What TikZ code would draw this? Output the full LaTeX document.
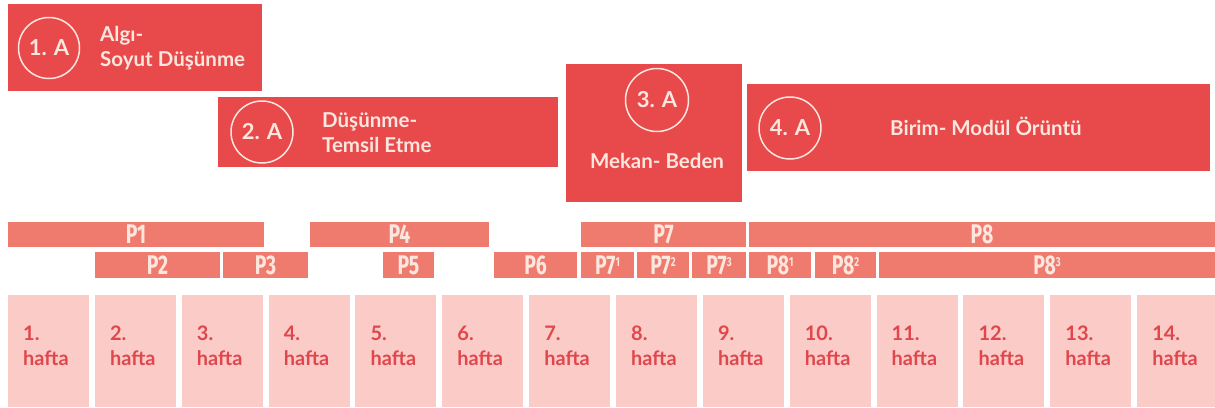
\documentclass[tikz,border=0pt]{standalone}
\usepackage{fontspec}
\setmainfont{Lato}
\newfontfamily\condf{Fira Sans}[FakeStretch=0.72]
\definecolor{boxred}{HTML}{E8494B}
\definecolor{pbarc}{HTML}{EF7B6F}
\definecolor{weekc}{HTML}{FBCBC8}
\definecolor{weektxt}{HTML}{E0474C}
\definecolor{lightc}{HTML}{FCE6DE}
\newcommand{\psup}[1]{\raisebox{0.55ex}{\fontsize{13}{13}\selectfont #1}}
\begin{document}
\begin{tikzpicture}[x=1pt,y=-1pt,
  bigbox/.style={fill=boxred, draw=none, inner sep=0, outer sep=0, anchor=north west},
  circ/.style={circle, draw=lightc, line width=1.5pt, inner sep=0, text=lightc,
    font=\bfseries\fontsize{22}{22}\selectfont},
  bigtxt/.style={inner sep=0, text=lightc, font=\bfseries\fontsize{20.5}{21}\selectfont},
  pbar/.style={fill=pbarc, draw=none, inner sep=0, outer sep=0, anchor=north west,
    text=lightc, font=\condf\bfseries\fontsize{27}{27}\selectfont},
  weekbox/.style={fill=weekc, draw=none, inner sep=0, outer sep=0, anchor=north west,
    minimum width=81, minimum height=112},
  wtxt/.style={inner sep=0, anchor=base west, text=weektxt,
    font=\bfseries\fontsize{20}{20}\selectfont}
]
\useasboundingbox (0,0) rectangle (1215,407);

% big boxes
\node[bigbox, minimum width=254, minimum height=87] (b1) at (8,4) {};
\node[circ, minimum size=61] (c1) at (49,48) {1. A};
\node[bigtxt, anchor=base west] (t1a) at (100,41) {Algı-};
\node[bigtxt, anchor=base west] (t1b) at (100,66) {Soyut Düşünme};

\node[bigbox, minimum width=340, minimum height=70] (b2) at (218,97) {};
\node[circ, minimum size=62] (c2) at (262,132) {2. A};
\node[bigtxt, anchor=base west] (t2a) at (322,127) {Düşünme-};
\node[bigtxt, anchor=base west] (t2b) at (322,152) {Temsil Etme};

\node[bigbox, minimum width=176, minimum height=138] (b3) at (566,64) {};
\node[circ, minimum size=63] (c3) at (657,100) {3. A};
\node[bigtxt, anchor=base] (t3) at (657,168) {Mekan- Beden};

\node[bigbox, minimum width=463, minimum height=87] (b4) at (747,84) {};
\node[circ, minimum size=62] (c4) at (790,128) {4. A};
\node[bigtxt, anchor=base west] (t4) at (890,135) {Birim- Modül Örüntü};

% P bars, row 1
\node[pbar, minimum width=256, minimum height=25] (p1) at (8,222) {P1};
\node[pbar, minimum width=179, minimum height=25] (p4) at (310,222) {P4};
\node[pbar, minimum width=165, minimum height=25] (p7) at (581,222) {P7};
\node[pbar, minimum width=466, minimum height=25] (p8) at (749,222) {P8};
% P bars, row 2
\node[pbar, minimum width=125, minimum height=26] (p2) at (95,252) {P2};
\node[pbar, minimum width=85, minimum height=26] (p3) at (223,252) {P3};
\node[pbar, minimum width=51, minimum height=26] (p5) at (383,252) {P5};
\node[pbar, minimum width=83, minimum height=26] (p6) at (494,252) {P6};
\node[pbar, minimum width=53, minimum height=26] (p71) at (581,252) {P7\psup{1}};
\node[pbar, minimum width=52, minimum height=26] (p72) at (637,252) {P7\psup{2}};
\node[pbar, minimum width=54, minimum height=26] (p73) at (692,252) {P7\psup{3}};
\node[pbar, minimum width=62, minimum height=26] (p81) at (749,252) {P8\psup{1}};
\node[pbar, minimum width=61, minimum height=26] (p82) at (815,252) {P8\psup{2}};
\node[pbar, minimum width=336, minimum height=26] (p83) at (879,252) {P8\psup{3}};

% weeks
\foreach \i in {1,...,14} {
  \pgfmathsetmacro\wx{8+(\i-1)*86.85}
  \node[weekbox] (w\i) at (\wx,295) {};
  \node[wtxt] (wn\i) at (\wx+15,340) {\i.};
  \node[wtxt] (wh\i) at (\wx+15,365) {hafta};
}
\end{tikzpicture}
\end{document}
